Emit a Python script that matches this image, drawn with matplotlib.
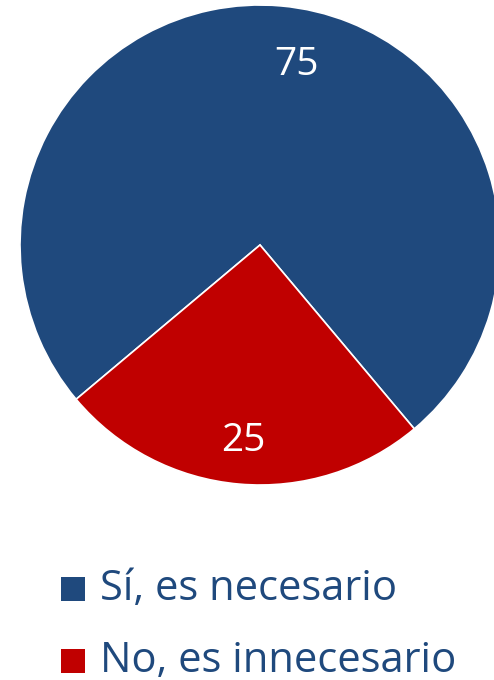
import numpy as np
import matplotlib
matplotlib.use("Agg")
import matplotlib.pyplot as plt
from matplotlib.patches import Rectangle

categories = ["Sí, es necesario", "No, es innecesario"]
values = [75, 25]
colors = ["#1F497D", "#C00000"]

plt.rcParams['font.family'] = ['Open Sans', 'DejaVu Sans']

W, H = 494, 680
fig = plt.figure(figsize=(W/100, H/100), dpi=100)
cx, cy, R = 260, 245, 240
ax = fig.add_axes([(cx-R)/W, (H-cy-R)/H, 2*R/W, 2*R/H])
wedges, texts = ax.pie(values, colors=colors, startangle=310, counterclock=True,
                       radius=1, wedgeprops=dict(edgecolor="white", linewidth=1.2))
ax.set_xlim(-1, 1)
ax.set_ylim(-1, 1)
ax.set_aspect('equal')
ax.axis('off')

# value labels
label_pos = [(78.5, 0.766), (265, 0.82)]
for v, (ang, r) in zip(values, label_pos):
    a = np.deg2rad(ang)
    ax.text(r*np.cos(a), r*np.sin(a), str(v), ha='center', va='center',
            color='white', fontsize=28)

# legend (manual)
for i, (cat, c) in enumerate(zip(categories, colors)):
    ytop = 577 + 72*i
    fig.patches.append(Rectangle((61/W, 1-(ytop+24)/H), 24/W, 24/H,
                                 transform=fig.transFigure, facecolor=c,
                                 edgecolor='none'))
    fig.text(100/W, 1-(ytop+23)/H, cat, ha='left', va='baseline',
             color="#1F497D", fontsize=30)
fig.savefig("out.png", dpi=100)
